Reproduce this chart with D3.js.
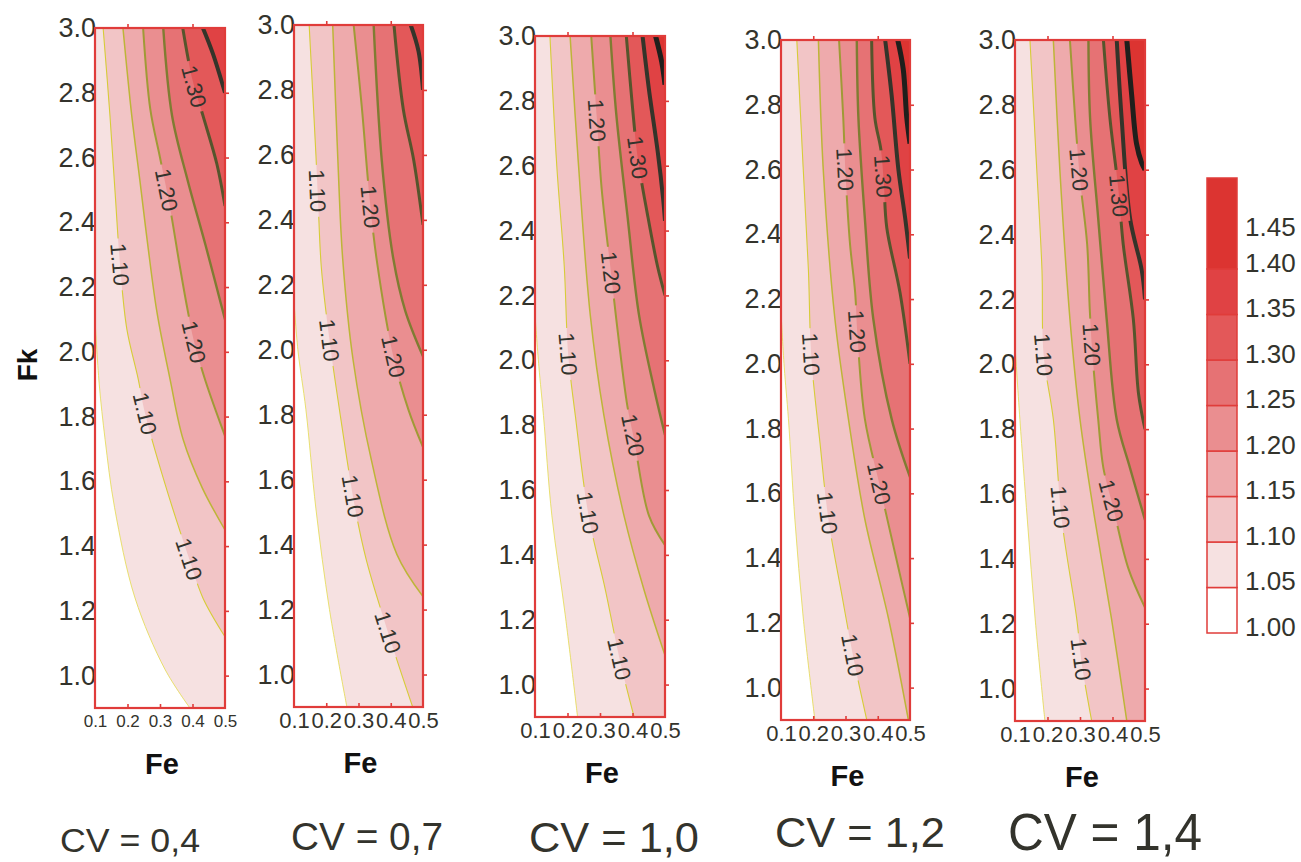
<!DOCTYPE html>
<html>
<head>
<meta charset="utf-8">
<script src="https://cdn.jsdelivr.net/npm/d3@7"></script>
<style>
  body { margin: 0; background: #fff; }
  svg { display: block; font-family: "Liberation Sans", Arial, sans-serif; }
</style>
</head>
<body>
<svg id="chart" width="1301" height="862"></svg>
<script>
// ---- data ----
const cvLabels = ['CV = 0,4', 'CV = 0,7', 'CV = 1,0', 'CV = 1,2', 'CV = 1,4'];
const levels = [1.05, 1.10, 1.15, 1.20, 1.25, 1.30, 1.35, 1.40];
const barEdges = [1.00, 1.05, 1.10, 1.15, 1.20, 1.25, 1.30, 1.35, 1.40, 1.50];
const barTicks = [1.00, 1.05, 1.10, 1.15, 1.20, 1.25, 1.30, 1.35, 1.40, 1.45];
const feTicks = [0.1, 0.2, 0.3, 0.4, 0.5];
const fkTicks = [1.0, 1.2, 1.4, 1.6, 1.8, 2.0, 2.2, 2.4, 2.6, 2.8, 3.0];

// contour lines, one per level (1.05, 1.10, ...), points are [Fe, Fk]
const cv04Lines = [
  [[0.1, 2.10], [0.113, 1.90], [0.131, 1.73], [0.16, 1.52], [0.223, 1.24], [0.315, 1.02], [0.392, 0.9]],
  [[0.125, 3.0], [0.146, 2.73], [0.162, 2.49], [0.177, 2.27], [0.198, 2.07], [0.232, 1.92], [0.254, 1.81], [0.31, 1.61], [0.39, 1.36], [0.432, 1.24], [0.5, 1.12]],
  [[0.186, 3.0], [0.213, 2.73], [0.238, 2.53], [0.263, 2.325], [0.291, 2.12], [0.331, 1.915], [0.371, 1.73], [0.43, 1.58], [0.5, 1.45]],
  [[0.248, 3.0], [0.27, 2.75], [0.3, 2.6], [0.33, 2.45], [0.36, 2.27], [0.383, 2.14], [0.405, 2.03], [0.44, 1.91], [0.5, 1.74]],
  [[0.31, 3.0], [0.337, 2.73], [0.385, 2.53], [0.44, 2.33], [0.5, 2.10]],
  [[0.37, 3.0], [0.40, 2.84], [0.432, 2.73], [0.475, 2.58], [0.5, 2.45]],
  [[0.432, 3.0], [0.463, 2.92], [0.5, 2.80]]
];
const cv07Lines = [
  [[0.1, 2.15], [0.112, 2.0], [0.137, 1.815], [0.168, 1.51], [0.21, 1.2], [0.264, 0.9]],
  [[0.147, 3.0], [0.168, 2.6], [0.175, 2.45], [0.185, 2.25], [0.21, 2.03], [0.241, 1.815], [0.288, 1.52], [0.325, 1.35], [0.398, 1.11], [0.468, 0.9]],
  [[0.22, 3.0], [0.236, 2.585], [0.251, 2.28], [0.283, 1.97], [0.34, 1.66], [0.419, 1.37], [0.5, 1.24]],
  [[0.285, 3.0], [0.31, 2.75], [0.335, 2.46], [0.356, 2.28], [0.408, 1.98], [0.455, 1.815], [0.5, 1.70]],
  [[0.347, 3.0], [0.372, 2.585], [0.408, 2.28], [0.445, 2.12], [0.5, 1.98]],
  [[0.41, 3.0], [0.439, 2.74], [0.471, 2.585], [0.5, 2.385]],
  [[0.462, 3.0], [0.486, 2.92], [0.5, 2.80]]
];
const cv10Lines = [
  [[0.1, 2.14], [0.112, 1.98], [0.126, 1.83], [0.152, 1.52], [0.193, 1.215], [0.231, 0.9]],
  [[0.146, 3.0], [0.167, 2.6], [0.19, 2.29], [0.202, 2.02], [0.224, 1.83], [0.265, 1.52], [0.317, 1.29], [0.36, 1.08], [0.405, 0.9]],
  [[0.208, 3.0], [0.234, 2.6], [0.27, 2.14], [0.312, 1.83], [0.374, 1.52], [0.436, 1.29], [0.5, 1.09]],
  [[0.273, 3.0], [0.29, 2.75], [0.305, 2.53], [0.335, 2.26], [0.358, 2.06], [0.384, 1.86], [0.405, 1.755], [0.451, 1.52], [0.5, 1.43]],
  [[0.332, 3.0], [0.35, 2.76], [0.384, 2.45], [0.42, 2.14], [0.467, 1.91], [0.5, 1.77]],
  [[0.381, 3.0], [0.40, 2.78], [0.416, 2.625], [0.446, 2.45], [0.477, 2.29], [0.5, 2.20]],
  [[0.431, 3.0], [0.45, 2.84], [0.478, 2.64], [0.494, 2.5], [0.5, 2.43]],
  [[0.471, 3.0], [0.49, 2.92], [0.5, 2.85]]
];
const cv12Lines = [
  [[0.1, 2.16], [0.11, 1.99], [0.123, 1.83], [0.143, 1.52], [0.169, 1.215], [0.205, 0.9]],
  [[0.149, 3.0], [0.169, 2.6], [0.185, 2.29], [0.194, 2.02], [0.221, 1.755], [0.247, 1.52], [0.288, 1.29], [0.327, 1.08], [0.366, 0.9]],
  [[0.216, 3.0], [0.231, 2.6], [0.267, 2.14], [0.309, 1.83], [0.36, 1.52], [0.433, 1.215], [0.495, 0.9]],
  [[0.28, 3.0], [0.293, 2.76], [0.3, 2.59], [0.314, 2.37], [0.33, 2.22], [0.337, 2.09], [0.36, 1.83], [0.407, 1.62], [0.464, 1.37], [0.5, 1.215]],
  [[0.335, 3.0], [0.34, 2.76], [0.36, 2.45], [0.386, 2.14], [0.443, 1.83], [0.5, 1.65]],
  [[0.381, 3.0], [0.391, 2.76], [0.41, 2.66], [0.419, 2.556], [0.428, 2.42], [0.469, 2.22], [0.5, 2.0]],
  [[0.423, 3.0], [0.443, 2.83], [0.464, 2.6], [0.485, 2.45], [0.5, 2.325]],
  [[0.462, 3.0], [0.479, 2.91], [0.49, 2.76], [0.5, 2.68]]
];
const cv14Lines = [
  [[0.1, 2.06], [0.115, 1.83], [0.138, 1.52], [0.162, 1.215], [0.192, 0.9]],
  [[0.146, 3.0], [0.167, 2.6], [0.183, 2.29], [0.188, 2.03], [0.218, 1.83], [0.244, 1.52], [0.29, 1.215], [0.305, 1.08], [0.336, 0.9]],
  [[0.218, 3.0], [0.238, 2.6], [0.269, 2.14], [0.30, 1.83], [0.346, 1.52], [0.397, 1.215], [0.444, 0.9]],
  [[0.269, 3.0], [0.285, 2.76], [0.30, 2.57], [0.322, 2.37], [0.33, 2.17], [0.337, 2.05], [0.356, 1.83], [0.372, 1.68], [0.403, 1.555], [0.449, 1.37], [0.5, 1.25]],
  [[0.326, 3.0], [0.331, 2.76], [0.356, 2.45], [0.382, 2.14], [0.413, 1.83], [0.454, 1.68], [0.5, 1.52]],
  [[0.372, 3.0], [0.392, 2.76], [0.418, 2.54], [0.433, 2.37], [0.464, 2.14], [0.48, 1.91], [0.5, 1.80]],
  [[0.413, 3.0], [0.428, 2.76], [0.454, 2.45], [0.49, 2.29], [0.5, 2.2]],
  [[0.444, 3.0], [0.459, 2.83], [0.474, 2.68], [0.49, 2.62], [0.5, 2.6]]
];

// in-line labels: [level, Fk where the label sits]
const cv04Labels = [[1.10, 2.27], [1.10, 1.81], [1.10, 1.36], [1.20, 2.50], [1.20, 2.03], [1.30, 2.82]];
const cv07Labels = [[1.10, 2.49], [1.10, 2.03], [1.10, 1.55], [1.10, 1.13], [1.20, 2.44], [1.20, 1.98]];
const cv10Labels = [[1.10, 2.02], [1.10, 1.53], [1.10, 1.08], [1.20, 2.74], [1.20, 2.27], [1.20, 1.77], [1.30, 2.625]];
const cv12Labels = [[1.10, 2.03], [1.10, 1.54], [1.10, 1.10], [1.20, 2.60], [1.20, 2.10], [1.20, 1.63], [1.30, 2.58]];
const cv14Labels = [[1.10, 2.03], [1.10, 1.56], [1.10, 1.09], [1.20, 2.60], [1.20, 2.06], [1.20, 1.58], [1.30, 2.52]];

// ---- styles ----
const bandColors = ['#ffffff', '#f6e1e1', '#f2c5c6', '#eeaaac', '#ea8e90', '#e67274', '#e35859', '#e04244', '#dc3431'];
const lineColors = ['#e3da4e', '#d6cc38', '#bdb538', '#a09a36', '#807c32', '#56552c', '#34342a', '#1f1f1c'];
const lineWidths = [0.8, 1.1, 1.5, 2.0, 2.4, 3.0, 4.0, 5.0];
const red = '#e03c3a';
const ink = '#33332c';

const panels = [
  { x: 95,   y: 28, w: 130, h: 680, lines: cv04Lines, labels: cv04Labels, xFont: 17, xPad: 7 },
  { x: 294,  y: 25, w: 129, h: 682, lines: cv07Lines, labels: cv07Labels, xFont: 22, xPad: 5 },
  { x: 535,  y: 36, w: 130, h: 681, lines: cv10Lines, labels: cv10Labels, xFont: 22, xPad: 5 },
  { x: 781,  y: 40, w: 129, h: 680, lines: cv12Lines, labels: cv12Labels, xFont: 22, xPad: 5 },
  { x: 1015, y: 40, w: 130, h: 681, lines: cv14Lines, labels: cv14Labels, xFont: 22, xPad: 5 }
];
const cvText = [
  { cx: 130, base: 852, size: 34, len: 140 },
  { cx: 367, base: 850, size: 38, len: 152 },
  { cx: 614, base: 852, size: 42, len: 170 },
  { cx: 860, base: 847, size: 42, len: 170 },
  { cx: 1105, base: 850, size: 52, len: 194 }
];

const svg = d3.select('#chart');
const defs = svg.append('defs');
const fmt1 = d3.format('.1f');

panels.forEach((p, pi) => {
  const x = d3.scaleLinear().domain([0.1, 0.5]).range([0, p.w]);
  const y = d3.scaleLinear().domain([0.9, 3.0]).range([p.h, 0]);
  const g = svg.append('g').attr('transform', `translate(${p.x},${p.y})`);

  defs.append('clipPath').attr('id', 'clip' + pi)
    .append('rect').attr('width', p.w).attr('height', p.h);
  const mask = defs.append('mask').attr('id', 'mask' + pi)
    .attr('maskUnits', 'userSpaceOnUse')
    .attr('x', -20).attr('y', -20).attr('width', p.w + 40).attr('height', p.h + 40);
  mask.append('rect').attr('x', -20).attr('y', -20)
    .attr('width', p.w + 40).attr('height', p.h + 40).attr('fill', '#fff');

  const line = d3.line()
    .x(d => x(d[0])).y(d => y(d[1]))
    .curve(d3.curveCatmullRom.alpha(0.5));

  const plot = g.append('g').attr('clip-path', `url(#clip${pi})`);
  plot.append('rect').attr('width', p.w).attr('height', p.h).attr('fill', bandColors[0]);

  // filled regions above each level, painted from low to high
  plot.selectAll('path.band').data(p.lines).join('path')
    .attr('class', 'band')
    .attr('fill', (d, i) => bandColors[i + 1])
    .attr('d', pts => {
      const first = pts[0], last = pts[pts.length - 1];
      const corners = [];
      if (last[0] < 0.5) corners.push([x(0.5), y(0.9)]);
      corners.push([x(0.5), y(3.0)]);
      if (first[1] < 3.0) corners.push([x(0.1), y(3.0)]);
      return line(pts) + corners.map(c => `L${c[0]},${c[1]}`).join('') + 'Z';
    });

  const lineG = plot.append('g').attr('mask', `url(#mask${pi})`);
  const paths = lineG.selectAll('path.cl').data(p.lines).join('path')
    .attr('class', 'cl')
    .attr('fill', 'none')
    .attr('stroke', (d, i) => lineColors[i])
    .attr('stroke-width', (d, i) => lineWidths[i])
    .attr('stroke-linejoin', 'round')
    .attr('d', line);

  // inline labels placed on the drawn curve
  p.labels.forEach(([lev, fk]) => {
    const li = levels.findIndex(l => Math.abs(l - lev) < 1e-6);
    const node = paths.nodes()[li];
    const total = node.getTotalLength();
    const ty = y(fk);
    let best = 0, bd = Infinity;
    for (let s = 0; s <= total; s += 0.5) {
      const pt = node.getPointAtLength(s);
      const dd = Math.abs(pt.y - ty);
      if (dd < bd) { bd = dd; best = s; }
    }
    const c = node.getPointAtLength(best);
    const a = node.getPointAtLength(Math.max(0, best - 8));
    const b = node.getPointAtLength(Math.min(total, best + 8));
    const ang = Math.atan2(b.y - a.y, b.x - a.x) * 180 / Math.PI;
    const tf = `translate(${c.x},${c.y}) rotate(${ang})`;
    mask.append('rect').attr('x', -26).attr('y', -9).attr('width', 52).attr('height', 18)
      .attr('fill', '#000').attr('transform', tf);
    g.append('text').attr('transform', tf)
      .attr('text-anchor', 'middle').attr('dy', '0.36em')
      .attr('font-size', 22).attr('fill', ink)
      .text(lev.toFixed(2));
  });

  // axes
  const yAx = g.append('g').call(d3.axisLeft(y).tickValues(fkTicks).tickSize(0).tickPadding(-1).tickFormat(fmt1));
  yAx.select('.domain').remove();
  yAx.selectAll('text').attr('font-size', 27).attr('fill', ink).attr('font-family', null);

  const xAx = g.append('g').attr('transform', `translate(0,${p.h})`)
    .call(d3.axisBottom(x).tickValues(feTicks).tickSize(0).tickPadding(p.xPad).tickFormat(fmt1));
  xAx.select('.domain').remove();
  xAx.selectAll('text').attr('font-size', p.xFont).attr('fill', ink).attr('font-family', null);

  const rAx = g.append('g').attr('transform', `translate(${p.w},0)`)
    .call(d3.axisRight(y).tickValues(fkTicks.slice(0, -1)).tickSize(4).tickFormat(''));
  const tAx = g.append('g')
    .call(d3.axisTop(x).tickValues([0.2, 0.4]).tickSize(4).tickFormat(''));
  const bAx = g.append('g').attr('transform', `translate(0,${p.h})`)
    .call(d3.axisBottom(x).tickValues([0.2, 0.3, 0.4]).tickSize(-4).tickFormat(''));
  [rAx, tAx, bAx].forEach(ax => {
    ax.select('.domain').remove();
    ax.selectAll('line').attr('stroke', red).attr('stroke-width', 1.6);
  });

  g.append('rect').attr('width', p.w).attr('height', p.h)
    .attr('fill', 'none').attr('stroke', red).attr('stroke-width', 2.2);

  g.append('text').attr('x', p.w / 2 + 2).attr('y', p.h + 66)
    .attr('text-anchor', 'middle').attr('font-size', 29).attr('font-weight', 'bold')
    .attr('fill', '#111').text('Fe');

  const t = cvText[pi];
  svg.append('text').attr('x', t.cx).attr('y', t.base)
    .attr('text-anchor', 'middle').attr('font-size', t.size)
    .attr('textLength', t.len).attr('lengthAdjust', 'spacingAndGlyphs')
    .attr('fill', ink).text(cvLabels[pi]);
});

// Fk axis title
svg.append('text').attr('transform', 'translate(37,365) rotate(-90)')
  .attr('text-anchor', 'middle').attr('font-size', 28).attr('font-weight', 'bold')
  .attr('fill', '#111').text('Fk');

// colour bar
const cb = d3.scaleLinear().domain([1.0, 1.5]).range([633, 178]);
const cbG = svg.append('g').attr('transform', 'translate(1207,0)');
cbG.selectAll('rect').data(d3.range(barEdges.length - 1)).join('rect')
  .attr('x', 0).attr('width', 30)
  .attr('y', i => cb(barEdges[i + 1]))
  .attr('height', i => cb(barEdges[i]) - cb(barEdges[i + 1]))
  .attr('fill', i => bandColors[i])
  .attr('stroke', red).attr('stroke-width', 1.5);
const cbAx = svg.append('g').attr('transform', 'translate(1237,0)')
  .call(d3.axisRight(cb).tickValues(barTicks).tickSize(0).tickPadding(8).tickFormat(d3.format('.2f')));
cbAx.select('.domain').remove();
cbAx.selectAll('text').attr('font-size', 26).attr('fill', ink).attr('font-family', null)
  .attr('y', d => d > 1.44 ? 4 : -6);
</script>
</body>
</html>
